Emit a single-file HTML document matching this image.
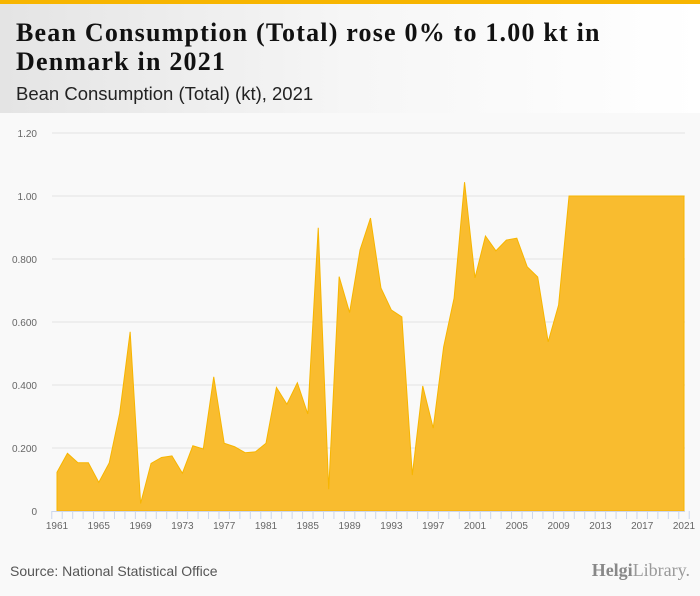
<!DOCTYPE html>
<html><head><meta charset="utf-8">
<style>
body{margin:0;width:700px;height:596px;overflow:hidden;font-family:"Liberation Sans",sans-serif;background:#f9f9f9}
#hdr{position:absolute;left:0;top:0;width:700px;height:113px;background:linear-gradient(90deg,#e4e4e4 0%,#f6f6f6 50%,#fff 100%);border-top:4px solid #f7b500;box-sizing:border-box}
#title{position:absolute;left:16px;top:14px;font-family:"Liberation Serif",serif;font-weight:bold;font-size:26px;letter-spacing:1.2px;line-height:29px;color:#111;margin:0}
#sub{position:absolute;left:16px;top:79px;font-size:18.5px;color:#222}
#src{position:absolute;left:10px;top:563px;font-size:14px;color:#555}
#logo{position:absolute;right:10px;top:560px;font-family:"Liberation Serif",serif;font-size:18px;color:#999}
</style></head><body>
<div id="hdr">
<h1 id="title">Bean Consumption (Total) rose 0% to 1.00 kt in<br>Denmark in 2021</h1>
<div id="sub">Bean Consumption (Total) (kt), 2021</div>
</div>
<svg id="chart" width="700" height="596" style="position:absolute;left:0;top:0"></svg>
<div id="src">Source: National Statistical Office</div>
<div id="logo"><b style="color:#888">Helgi</b>Library.</div>
<script>
const years=[];for(let y=1961;y<=2021;y++)years.push(y);
const values=[0.123,0.183,0.153,0.153,0.091,0.153,0.31,0.569,0.024,0.151,0.170,0.175,0.12,0.207,0.197,0.426,0.215,0.204,0.185,0.188,0.215,0.392,0.339,0.407,0.308,0.899,0.069,0.744,0.63,0.829,0.93,0.708,0.638,0.616,0.114,0.397,0.263,0.521,0.676,1.044,0.74,0.873,0.826,0.86,0.866,0.775,0.743,0.537,0.654,1.0,1.0,1.0,1.0,1.0,1.0,1.0,1.0,1.0,1.0,1.0,1.0];
const yTicks=[0,0.2,0.4,0.6,0.8,1.0,1.2];
const yLabels=["0","0.200","0.400","0.600","0.800","1.00","1.20"];
const svg=document.getElementById('chart');const NS='http://www.w3.org/2000/svg';
const x0=57,x1=684,yb=511,yt=133;
const xs=i=>x0+(x1-x0)*i/(years.length-1);
const ys=v=>yb-(yb-yt)*v/1.2;
function mk(t,a){const e=document.createElementNS(NS,t);for(const k in a)e.setAttribute(k,a[k]);svg.appendChild(e);return e;}
yTicks.forEach((v,i)=>{
 if(v>0){const g=mk('line',{x1:52,x2:685,y1:ys(v),y2:ys(v),stroke:'#e2e2e2','stroke-width':1});
 
 }
 const t=mk('text',{x:37,y:ys(v)+4,'text-anchor':'end','font-size':10,fill:'#666','font-family':'Liberation Sans, sans-serif'});
 t.textContent=yLabels[i];
 
 
});
let d='M'+xs(0)+','+yb;values.forEach((v,i)=>d+=' L'+xs(i)+','+ys(v));d+=' L'+xs(values.length-1)+','+yb+' Z';
const area=mk('path',{d:d,fill:'#f9bc2f',stroke:'#f7b500','stroke-width':1});


const ax=mk('line',{x1:52,x2:685,y1:yb+0.5,y2:yb+0.5,stroke:'#ccd6eb'});


const step=(x1-x0)/(years.length-1);
for(let i=0;i<=years.length;i++){const tk=mk('line',{x1:x0-step/2+i*step,x2:x0-step/2+i*step,y1:yb,y2:yb+8,stroke:'#ccd6eb'});
 
 }
years.forEach((y,i)=>{if((y-1961)%4)return;
 const t=mk('text',{x:xs(i),y:yb+18,'text-anchor':'middle','font-size':10,fill:'#666','font-family':'Liberation Sans, sans-serif'});
 t.textContent=y;
 
 });
</script>
</body></html>
